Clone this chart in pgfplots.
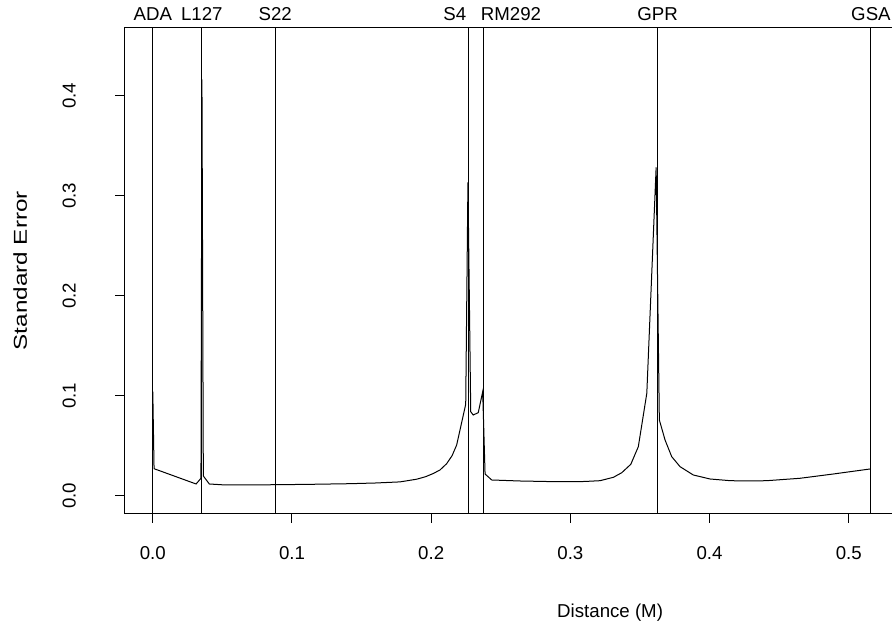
\documentclass[border=0pt]{standalone}
\usepackage{fontspec}
\setmainfont{Liberation Sans}
\usepackage{pgfplots}
\pgfplotsset{compat=1.18}
\begin{document}
\fontsize{14pt}{16pt}\selectfont
\begin{tikzpicture}
\begin{axis}[
  at={(0,0)}, anchor=south west,
  scale only axis, width=728.8pt, height=364.9pt,
  xmin=-0.0205, xmax=0.6776, ymin=-0.0183, ymax=0.4682,
  xtick={0,0.1,0.2,0.3,0.4,0.5},
  xticklabels={0.0,0.1,0.2,0.3,0.4,0.5},
  ytick={0,0.1,0.2,0.3,0.4},
  yticklabels={0.0,0.1,0.2,0.3,0.4},
  tick align=outside, xtick pos=bottom, ytick pos=left,
  major tick length=6.75pt,
  tick style={black, line width=0.75pt},
  axis line style={line width=0.75pt},
  xticklabel style={yshift=-22.5pt, anchor=center, font=\fontsize{14pt}{16pt}\selectfont},
  yticklabel style={xshift=-34.5pt, rotate=90, anchor=center, font=\fontsize{14pt}{16pt}\selectfont},
  xlabel={Distance (M)}, ylabel={\scalebox{1.3}[1]{Standard Error}},
  every axis x label/.style={at={(axis description cs:0.5,-0.2035)}, anchor=center, font=\fontsize{14pt}{16pt}\selectfont},
  every axis y label/.style={at={(axis description cs:-0.1070,0.5)}, rotate=90, anchor=center, font=\fontsize{14pt}{16pt}\selectfont},
  clip=true,
]
\addplot[black, line width=0.75pt] coordinates {
(0.0000, 0.1040) (0.0009, 0.0270) (0.0311, 0.0117) (0.0346, 0.0174)
(0.0353, 0.4164) (0.0363, 0.0197) (0.0406, 0.0117) (0.0500, 0.0109)
(0.0700, 0.0107) (0.0880, 0.0110) (0.1100, 0.0113) (0.1417, 0.0120)
(0.1600, 0.0127) (0.1776, 0.0138) (0.1896, 0.0165) (0.1960, 0.0190)
(0.2015, 0.0222) (0.2063, 0.0257) (0.2111, 0.0320) (0.2150, 0.0400)
(0.2183, 0.0507) (0.2248, 0.0914) (0.2264, 0.3134) (0.2284, 0.0840)
(0.2302, 0.0807) (0.2338, 0.0830) (0.2370, 0.1040) (0.2387, 0.0217)
(0.2435, 0.0157) (0.2638, 0.0147) (0.2900, 0.0140) (0.3100, 0.0142)
(0.3213, 0.0150) (0.3309, 0.0184) (0.3369, 0.0230) (0.3434, 0.0314)
(0.3488, 0.0490) (0.3549, 0.1024) (0.3616, 0.3284) (0.3639, 0.0757)
(0.3680, 0.0557) (0.3728, 0.0390) (0.3788, 0.0290) (0.3883, 0.0207)
(0.4003, 0.0167) (0.4150, 0.0150) (0.4290, 0.0147) (0.4410, 0.0150)
(0.4649, 0.0174) (0.4889, 0.0217) (0.5152, 0.0267)
};
% marker positions
\addplot[black, line width=0.75pt] coordinates {(0.0000,-0.0183) (0.0000,0.4682)};
\addplot[black, line width=0.75pt] coordinates {(0.0353,-0.0183) (0.0353,0.4682)};
\addplot[black, line width=0.75pt] coordinates {(0.0880,-0.0183) (0.0880,0.4682)};
\addplot[black, line width=0.75pt] coordinates {(0.2266,-0.0183) (0.2266,0.4682)};
\addplot[black, line width=0.75pt] coordinates {(0.2374,-0.0183) (0.2374,0.4682)};
\addplot[black, line width=0.75pt] coordinates {(0.3627,-0.0183) (0.3627,0.4682)};
\addplot[black, line width=0.75pt] coordinates {(0.5159,-0.0183) (0.5159,0.4682)};
\end{axis}
\begin{scope}[every node/.style={inner sep=0pt, font=\fontsize{14pt}{16pt}\selectfont}]
\def\yb{370.2pt}
\node[anchor=base] at (21.45pt,\yb) {ADA};
\node[anchor=base] at (58.2pt,\yb) {L127};
\node[anchor=base] at (113.2pt,\yb) {S22};
\node[anchor=base east] at (256.7pt,\yb) {S4};
\node[anchor=base west] at (267.3pt,\yb) {RM292};
\node[anchor=base] at (400pt,\yb) {GPR};
\node[anchor=base] at (560.0pt,\yb) {GSA};
\end{scope}
\pgfresetboundingbox
\useasboundingbox (-93.2pt,-90pt) rectangle (575.8pt,385.5pt);
\end{tikzpicture}
\end{document}
